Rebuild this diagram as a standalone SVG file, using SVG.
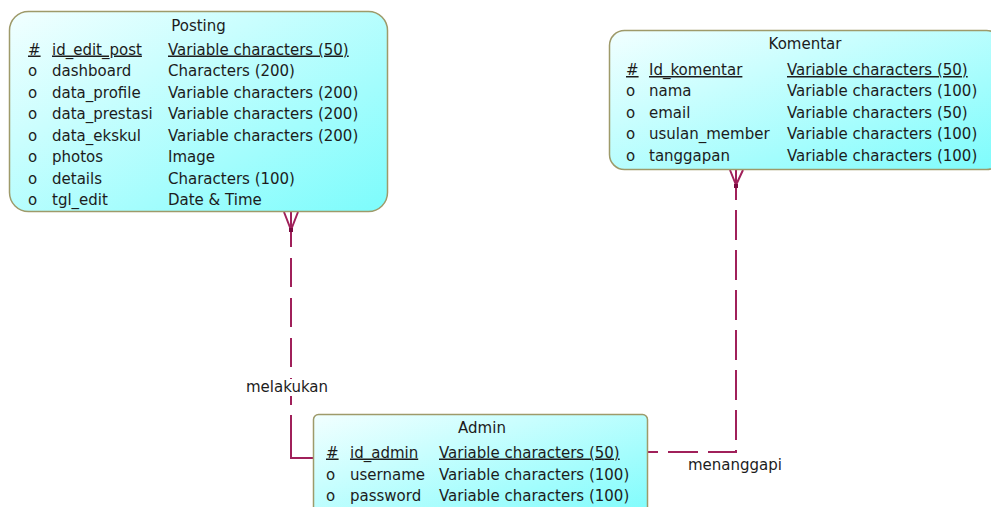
<svg xmlns="http://www.w3.org/2000/svg" width="991" height="507" viewBox="0 0 991 507">
<style>
  .box { stroke: #9E9A6A; stroke-width: 1.5; fill: url(#g); }
  text { font-family: "DejaVu Sans", "Liberation Sans", sans-serif; font-size: 15px; fill: #1c1c1c; }
  .t { text-anchor: middle; }
  .pk { text-decoration: underline; }
  .rel { stroke: #A0205A; stroke-width: 2; fill: none; }
  .dash { stroke-dasharray: 30 10; }
</style>
<defs>
  <linearGradient id="g" x1="0" y1="0" x2="1" y2="1">
    <stop offset="0" stop-color="#F2FFFF"/>
    <stop offset="1" stop-color="#7CFCFC"/>
  </linearGradient>
</defs>
<rect width="991" height="507" fill="#ffffff"/>

<g id="connectors">
  <!-- Posting - Admin -->
  <path class="rel" d="M291,231 V405" style="stroke-dasharray:29 11; stroke-dashoffset:13"/>
  <path class="rel" d="M291,415 V458 H313"/>
  <path class="rel" d="M284,212 L291,230 M298,212 L291,230 M291,212 V231"/>
  <rect x="289" y="228" width="4" height="4" fill="#7A0A40"/>
  <rect x="244" y="379" width="88" height="17" fill="#ffffff"/>
  <text x="287" y="392" class="t">melakukan</text>
  <!-- Komentar - Admin -->
  <path class="rel" d="M736,186 V452 H648" style="stroke-dasharray:30 10; stroke-dashoffset:16"/>
  <path class="rel" d="M730,170 L736,185 M743,170 L736,185 M736,170 V186"/>
  <rect x="734" y="184" width="4" height="4" fill="#7A0A40"/>
  <text x="735" y="470" class="t">menanggapi</text>
</g>

<g id="posting">
  <rect class="box" x="9.5" y="11.5" width="378" height="200" rx="19" ry="19"/>
  <text x="198.5" y="31" class="t">Posting</text>
  <text x="28" y="54.5" class="pk">#</text><text x="52" y="54.5" class="pk">id_edit_post</text><text x="168" y="54.5" class="pk">Variable characters (50)</text>
  <text x="28" y="76">o</text><text x="52" y="76">dashboard</text><text x="168" y="76">Characters (200)</text>
  <text x="28" y="97.5">o</text><text x="52" y="97.5">data_profile</text><text x="168" y="97.5">Variable characters (200)</text>
  <text x="28" y="119">o</text><text x="52" y="119">data_prestasi</text><text x="168" y="119">Variable characters (200)</text>
  <text x="28" y="140.5">o</text><text x="52" y="140.5">data_ekskul</text><text x="168" y="140.5">Variable characters (200)</text>
  <text x="28" y="162">o</text><text x="52" y="162">photos</text><text x="168" y="162">Image</text>
  <text x="28" y="183.5">o</text><text x="52" y="183.5">details</text><text x="168" y="183.5">Characters (100)</text>
  <text x="28" y="205">o</text><text x="52" y="205">tgl_edit</text><text x="168" y="205">Date &amp; Time</text>
</g>

<g id="komentar">
  <rect class="box" x="609.5" y="30.5" width="392" height="139" rx="15" ry="15"/>
  <text x="805" y="49" class="t">Komentar</text>
  <text x="626" y="75" class="pk">#</text><text x="649" y="75" class="pk">Id_komentar</text><text x="787" y="75" class="pk">Variable characters (50)</text>
  <text x="626" y="96">o</text><text x="649" y="96">nama</text><text x="787" y="96">Variable characters (100)</text>
  <text x="626" y="117.5">o</text><text x="649" y="117.5">email</text><text x="787" y="117.5">Variable characters (50)</text>
  <text x="626" y="139">o</text><text x="649" y="139">usulan_member</text><text x="787" y="139">Variable characters (100)</text>
  <text x="626" y="160.5">o</text><text x="649" y="160.5">tanggapan</text><text x="787" y="160.5">Variable characters (100)</text>
</g>

<g id="admin">
  <rect class="box" x="313.5" y="414.5" width="334" height="105" rx="5" ry="5"/>
  <text x="482" y="433" class="t">Admin</text>
  <text x="326" y="457.5" class="pk">#</text><text x="350" y="457.5" class="pk">id_admin</text><text x="439" y="457.5" class="pk">Variable characters (50)</text>
  <text x="326" y="479.5">o</text><text x="350" y="479.5">username</text><text x="439" y="479.5">Variable characters (100)</text>
  <text x="326" y="501">o</text><text x="350" y="501">password</text><text x="439" y="501">Variable characters (100)</text>
</g>
</svg>
